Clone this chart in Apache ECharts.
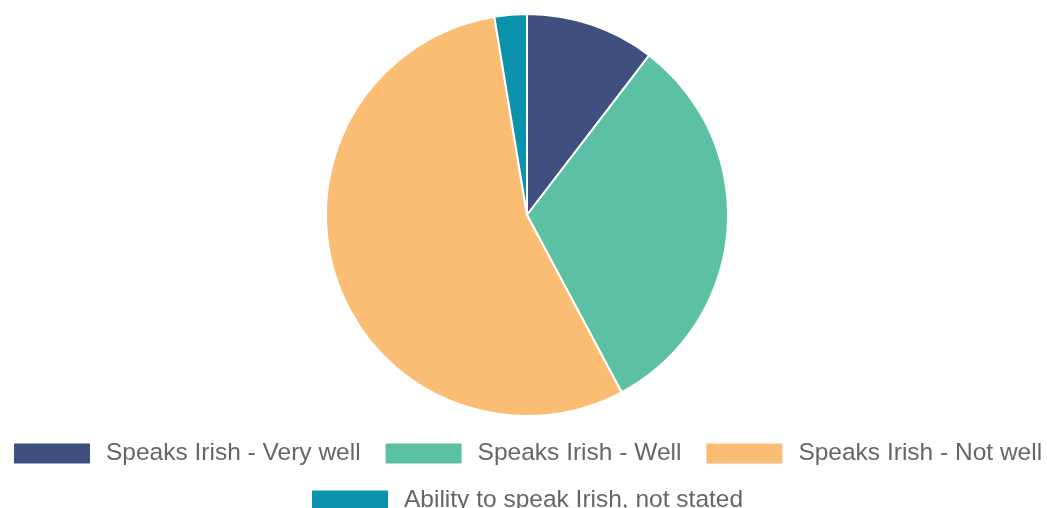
<!DOCTYPE html>
<html>
<head>
<meta charset="utf-8">
<script src="https://cdn.jsdelivr.net/npm/echarts@6/dist/echarts.min.js"></script>
<style>
  html, body { margin: 0; padding: 0; background: #fff; }
  #chart { width: 1047px; height: 508px; }
</style>
</head>
<body>
<div id="chart"></div>
<script>
// 类别与数值（百分比，从图上估读）
const categories = [
  'Speaks Irish - Very well',
  'Speaks Irish - Well',
  'Speaks Irish - Not well',
  'Ability to speak Irish, not stated'
]
const values = [10.4, 31.8, 55.2, 2.6]
const colors = ['#3f5080', '#5cc1a4', '#fbbd74', '#0a93aa']

// 图例公共样式
const legendBase = {
  orient: 'horizontal',
  itemWidth: 78,
  itemHeight: 22,
  itemGap: 23,
  icon: 'rect',
  padding: 0,
  textStyle: {
    fontFamily: 'Liberation Sans, Arial, sans-serif',
    fontSize: 24.5,
    color: '#666',
    padding: [0, 0, 0, 10]
  }
}

const chart = echarts.init(document.getElementById('chart'))
chart.setOption({
  animation: false,
  color: colors,
  legend: [
    // 第一行三个，第二行一个居中
    { ...legendBase, top: 441, left: 12, data: categories.slice(0, 3) },
    { ...legendBase, top: 488, left: 310, data: categories.slice(3) }
  ],
  series: [
    {
      type: 'pie',
      center: [527, 215],
      radius: 201,
      startAngle: 90,
      clockwise: true,
      label: { show: false },
      labelLine: { show: false },
      itemStyle: { borderColor: '#fff', borderWidth: 2 },
      data: categories.map((name, i) => ({ name, value: values[i] }))
    }
  ]
})
</script>
</body>
</html>
